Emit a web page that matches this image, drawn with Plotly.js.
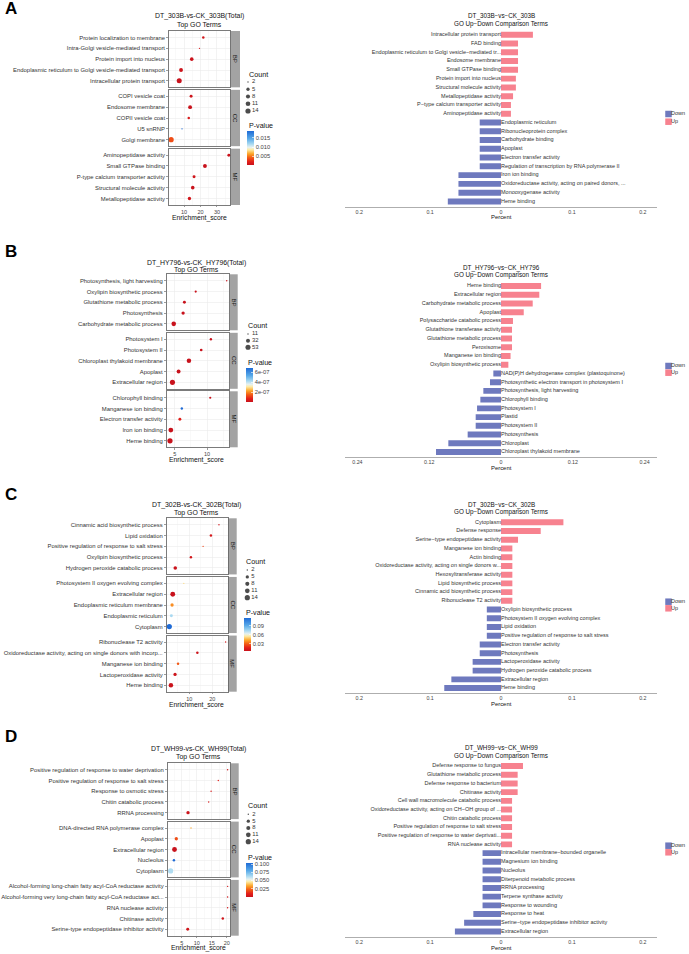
<!DOCTYPE html>
<html><head><meta charset="utf-8">
<script src="https://cdn.plot.ly/plotly-3.0.1.min.js"></script>
<style>html,body{margin:0;padding:0;background:#fff}#chart{width:689px;height:954px}</style>
</head><body><div id="chart"></div>
<script>
// ===================== DATA =====================
// ---- Panel A ----
const A_title = "DT_303B-vs-CK_303B(Total)";
const A_barTitle = "DT_303B−vs−CK_303B";
const A_BP_terms = ["Protein localization to membrane","Intra-Golgi vesicle-mediated transport","Protein import into nucleus","Endoplasmic reticulum to Golgi vesicle-mediated transport","Intracellular protein transport"];
const A_BP_score = [21.7,19.4,14.7,8.2,7.1];
const A_BP_count = [3,2,6,7,13];
const A_BP_pvalue = [0.0008,0.0012,0.0003,0.0004,0.0001];
const A_CC_terms = ["COPI vesicle coat","Endosome membrane","COPII vesicle coat","U5 snRNP","Golgi membrane"];
const A_CC_score = [14.3,13.7,12.9,8.8,2.2];
const A_CC_count = [4,7,3,2,14];
const A_CC_pvalue = [0.0005,0.0002,0.0012,0.0188,0.0036];
const A_MF_terms = ["Aminopeptidase activity","Small GTPase binding","P-type calcium transporter activity","Structural molecule activity","Metallopeptidase activity"];
const A_MF_score = [37.2,22.7,16.1,15.3,13.3];
const A_MF_count = [4,7,4,6,5];
const A_MF_pvalue = [0.0003,0.0001,0.0006,0.0002,0.0007];
const A_countBreaks = [2,5,8,11,14];
const A_pTickVals = [0.015,0.010,0.005];
const A_pTickText = ["0.015","0.010","0.005"];
const A_up_terms = ["Intracellular protein transport","FAD binding","Endoplasmic reticulum to Golgi vesicle−mediated tr...","Endosome membrane","Small GTPase binding","Protein import into nucleus","Structural molecule activity","Metallopeptidase activity","P−type calcium transporter activity","Aminopeptidase activity"];
const A_up_pct = [0.045,0.024,0.024,0.024,0.024,0.021,0.021,0.017,0.014,0.014];
const A_down_terms = ["Endoplasmic reticulum","Ribonucleoprotein complex","Carbohydrate binding","Apoplast","Electron transfer activity","Regulation of transcription by RNA polymerase II","Iron ion binding","Oxidoreductase activity, acting on paired donors, ...","Monooxygenase activity","Heme binding"];
const A_down_pct = [0.030,0.030,0.030,0.030,0.030,0.030,0.060,0.060,0.060,0.075];
const A_barTicks = [-0.2,-0.1,0,0.1,0.2];
const A_barTickText = ["0.2","0.1","0","0.1","0.2"];

// ---- Panel B ----
const B_title = "DT_HY796-vs-CK_HY796(Total)";
const B_barTitle = "DT_HY796−vs−CK_HY796";
const B_BP_terms = ["Photosynthesis, light harvesting","Oxylipin biosynthetic process","Glutathione metabolic process","Photosynthesis","Carbohydrate metabolic process"];
const B_BP_score = [13.05,8.25,6.5,6.3,4.85];
const B_BP_count = [11,13,18,22,42];
const B_BP_pvalue = [1e-9,2e-9,1e-10,1e-10,1e-12];
const B_CC_terms = ["Photosystem I","Photosystem II","Chloroplast thylakoid membrane","Apoplast","Extracellular region"];
const B_CC_score = [10.6,9.1,7.2,5.6,4.65];
const B_CC_count = [14,16,40,30,53];
const B_CC_pvalue = [1e-10,3e-9,1e-14,1e-11,1e-14];
const B_MF_terms = ["Chlorophyll binding","Manganese ion binding","Electron transfer activity","Iron ion binding","Heme binding"];
const B_MF_score = [10.5,6.1,5.8,4.4,4.27];
const B_MF_count = [13,14,18,47,55];
const B_MF_pvalue = [1e-9,6.8e-7,6e-8,1e-10,1e-11];
const B_countBreaks = [11,32,53];
const B_pTickVals = [6e-7,4e-7,2e-7];
const B_pTickText = ["6e-07","4e-07","2e-07"];
const B_up_terms = ["Heme binding","Extracellular region","Carbohydrate metabolic process","Apoplast","Polysaccharide catabolic process","Glutathione transferase activity","Glutathione metabolic process","Peroxisome","Manganese ion binding","Oxylipin biosynthetic process"];
const B_up_pct = [0.067,0.064,0.053,0.038,0.020,0.0184,0.0184,0.0184,0.016,0.0123];
const B_down_terms = ["NAD(P)H dehydrogenase complex (plastoquinone)","Photosynthetic electron transport in photosystem I","Photosynthesis, light harvesting","Chlorophyll binding","Photosystem I","Plastid","Photosystem II","Photosynthesis","Chloroplast","Chloroplast thylakoid membrane"];
const B_down_pct = [0.0128,0.0184,0.0295,0.0345,0.040,0.0423,0.0423,0.0557,0.088,0.1086];
const B_barTicks = [-0.24,-0.12,0,0.12,0.24];
const B_barTickText = ["0.24","0.12","0","0.12","0.24"];

// ---- Panel C ----
const C_title = "DT_302B-vs-CK_302B(Total)";
const C_barTitle = "DT_302B−vs−CK_302B";
const C_BP_terms = ["Cinnamic acid biosynthetic process","Lipid oxidation","Positive regulation of response to salt stress","Oxylipin biosynthetic process","Hydrogen peroxide catabolic process"];
const C_BP_score = [22.9,19.4,16.0,10.7,3.9];
const C_BP_count = [2,3,2,3,6];
const C_BP_pvalue = [0.008,0.010,0.024,0.009,0.006];
const C_CC_terms = ["Photosystem II oxygen evolving complex","Extracellular region","Endoplasmic reticulum membrane","Endoplasmic reticulum","Cytoplasm"];
const C_CC_score = [7.6,2.8,2.5,2.2,1.3];
const C_CC_count = [2,12,5,4,14];
const C_CC_pvalue = [0.052,0.005,0.037,0.072,0.114];
const C_MF_terms = ["Ribonuclease T2 activity","Oxidoreductase activity, acting on single donors with incorp...","Manganese ion binding","Lactoperoxidase activity","Heme binding"];
const C_MF_score = [25.8,13.5,5.1,3.8,2.0];
const C_MF_count = [2,3,3,5,10];
const C_MF_pvalue = [0.010,0.007,0.028,0.007,0.006];
const C_countBreaks = [2,5,8,11,14];
const C_pTickVals = [0.09,0.06,0.03];
const C_pTickText = ["0.09","0.06","0.03"];
const C_up_terms = ["Cytoplasm","Defense response","Serine−type endopeptidase activity","Manganese ion binding","Actin binding","Oxidoreductase activity, acting on single donors w...","Hexosyltransferase activity","Lipid biosynthetic process","Cinnamic acid biosynthetic process","Ribonuclease T2 activity"];
const C_up_pct = [0.088,0.056,0.024,0.016,0.016,0.016,0.016,0.016,0.016,0.016];
const C_down_terms = ["Oxylipin biosynthetic process","Photosystem II oxygen evolving complex","Lipid oxidation","Positive regulation of response to salt stress","Electron transfer activity","Photosynthesis","Lactoperoxidase activity","Hydrogen peroxide catabolic process","Extracellular region","Heme binding"];
const C_down_pct = [0.020,0.020,0.020,0.020,0.030,0.030,0.040,0.040,0.070,0.080];
const C_barTicks = [-0.2,-0.1,0,0.1,0.2];
const C_barTickText = ["0.2","0.1","0","0.1","0.2"];

// ---- Panel D ----
const D_title = "DT_WH99-vs-CK_WH99(Total)";
const D_barTitle = "DT_WH99−vs−CK_WH99";
const D_BP_terms = ["Positive regulation of response to water deprivation","Positive regulation of response to salt stress","Response to osmotic stress","Chitin catabolic process","RRNA processing"];
const D_BP_score = [20.3,17.2,14.8,14.0,7.1];
const D_BP_count = [2,2,2,2,5];
const D_BP_pvalue = [0.004,0.010,0.008,0.006,0.002];
const D_CC_terms = ["DNA-directed RNA polymerase complex","Apoplast","Extracellular region","Nucleolus","Cytoplasm"];
const D_CC_score = [8.1,3.2,2.6,2.4,1.3];
const D_CC_count = [2,5,12,3,14];
const D_CC_pvalue = [0.035,0.020,0.0003,0.104,0.063];
const D_MF_terms = ["Alcohol-forming long-chain fatty acyl-CoA reductase activity","Alcohol-forming very long-chain fatty acyl-CoA reductase act...","RNA nuclease activity","Chitinase activity","Serine-type endopeptidase inhibitor activity"];
const D_MF_score = [20.3,20.3,20.3,18.7,7.0];
const D_MF_count = [2,2,2,3,4];
const D_MF_pvalue = [0.004,0.004,0.004,0.003,0.003];
const D_countBreaks = [2,5,8,11,14];
const D_pTickVals = [0.100,0.075,0.050,0.025];
const D_pTickText = ["0.100","0.075","0.050","0.025"];
const D_up_terms = ["Defense response to fungus","Glutathione metabolic process","Defense response to bacterium","Chitinase activity","Cell wall macromolecule catabolic process","Oxidoreductase activity, acting on CH−OH group of ...","Chitin catabolic process","Positive regulation of response to salt stress","Positive regulation of response to water deprivati...","RNA nuclease activity"];
const D_up_pct = [0.031,0.0235,0.0235,0.0235,0.0156,0.0156,0.0156,0.0156,0.0156,0.0156];
const D_down_terms = ["Intracellular membrane−bounded organelle","Magnesium ion binding","Nucleolus","Diterpenoid metabolic process","RRNA processing","Terpene synthase activity","Response to wounding","Response to heat","Serine−type endopeptidase inhibitor activity","Extracellular region"];
const D_down_pct = [0.026,0.026,0.026,0.026,0.026,0.026,0.026,0.039,0.052,0.065];
const D_barTicks = [-0.2,-0.1,0,0.1,0.2];
const D_barTickText = ["0.2","0.1","0","0.1","0.2"];

const ontologies = ["BP","CC","MF"];
const groupNames = ["Down","Up"];

// ===================== STYLE / LAYOUT =====================
const W = 689, H = 954;
const FONT = "Liberation Sans, Arial, Helvetica, sans-serif";
const fx = v => v / W, fy = v => 1 - v / H;
const UP_COLOR = "#F7828F", DOWN_COLOR = "#6E79BE";
const STRIP = "#A3A3A3", BORDER = "#5a5a5a", GRID = "#EBEBEB", GRIDMINOR = "#F4F4F4";
const TXT = "#333333";
const pScale = [[0,"#C8121C"],[0.1,"#E3201A"],[0.22,"#F35E16"],[0.33,"#FCA62A"],[0.45,"#FDEBA6"],[0.52,"#E6F1F1"],[0.62,"#A6D8F1"],[0.78,"#56A8E8"],[1,"#1F6BD6"]];

const panels = [
  {L:"A", letterY:9, title:A_title, barTitle:A_barTitle,
   facets:[[A_BP_terms,A_BP_score,A_BP_count,A_BP_pvalue],[A_CC_terms,A_CC_score,A_CC_count,A_CC_pvalue],[A_MF_terms,A_MF_score,A_MF_count,A_MF_pvalue]],
   breaks:A_countBreaks, pv:A_pTickVals, pt:A_pTickText,
   up:[A_up_terms,A_up_pct], down:[A_down_terms,A_down_pct], bt:A_barTicks, btt:A_barTickText,
   dot:{x0:169,x1:230,sR:240,y0:31,y1:205,range:[0.9,37.9],dtick:10,titleX:199.5,t1:16,t2:25,xtY:217.5},
   cnt:{tx:246.7,ty:74,dx:249,lx:252,y0:82,y1:111}, pvl:{tx:246.7,ty:126,x:247,y0:131,y1:165},
   bar:{y0:29.5,y1:206.7,r:0.22,t1:16,t2:24,pY:216.7}, leg:{y0:114,y1:121.7}},
  {L:"B", letterY:252, title:B_title, barTitle:B_barTitle,
   facets:[[B_BP_terms,B_BP_score,B_BP_count,B_BP_pvalue],[B_CC_terms,B_CC_score,B_CC_count,B_CC_pvalue],[B_MF_terms,B_MF_score,B_MF_count,B_MF_pvalue]],
   breaks:B_countBreaks, pv:B_pTickVals, pt:B_pTickText,
   up:[B_up_terms,B_up_pct], down:[B_down_terms,B_down_pct], bt:B_barTicks, btt:B_barTickText,
   dot:{x0:166.7,x1:229.3,sR:237.7,y0:274.3,y1:447.3,range:[3.76,13.45],dtick:5,titleX:197,t1:262.7,t2:270.5,xtY:460.5},
   cnt:{tx:245.7,ty:325,dx:249,lx:252,y0:334,y1:347.3}, pvl:{tx:245.7,ty:362.7,x:245.7,y0:368.3,y1:402.3},
   bar:{y0:280.8,y1:457.3,r:0.2607,t1:268.3,t2:275.5,pY:468.3}, leg:{y0:366,y1:372.7}},
  {L:"C", letterY:494.5, title:C_title, barTitle:C_barTitle,
   facets:[[C_BP_terms,C_BP_score,C_BP_count,C_BP_pvalue],[C_CC_terms,C_CC_score,C_CC_count,C_CC_pvalue],[C_MF_terms,C_MF_score,C_MF_count,C_MF_pvalue]],
   breaks:C_countBreaks, pv:C_pTickVals, pt:C_pTickText,
   up:[C_up_terms,C_up_pct], down:[C_down_terms,C_down_pct], bt:C_barTicks, btt:C_barTickText,
   dot:{x0:166.7,x1:227.7,sR:236.7,y0:518.3,y1:691.7,range:[0.17,26.7],dtick:10,titleX:196,t1:505,t2:512.7,xtY:704.5},
   cnt:{tx:244.3,ty:561.7,dx:248.3,lx:251.3,y0:570,y1:597.7}, pvl:{tx:244.3,ty:613.3,x:244.3,y0:618.3,y1:651.7},
   bar:{y0:517.1,y1:693.3,r:0.22,t1:505,t2:511.7,pY:704}, leg:{y0:601.7,y1:608.3}},
  {L:"D", letterY:736.5, title:D_title, barTitle:D_barTitle,
   facets:[[D_BP_terms,D_BP_score,D_BP_count,D_BP_pvalue],[D_CC_terms,D_CC_score,D_CC_count,D_CC_pvalue],[D_MF_terms,D_MF_score,D_MF_count,D_MF_pvalue]],
   breaks:D_countBreaks, pv:D_pTickVals, pt:D_pTickText,
   up:[D_up_terms,D_up_pct], down:[D_down_terms,D_down_pct], bt:D_barTicks, btt:D_barTickText,
   dot:{x0:167.7,x1:230,sR:238.7,y0:763.3,y1:935.7,range:[0.33,21.1],dtick:5,titleX:198,t1:749,t2:756.7,xtY:948.3},
   cnt:{tx:246,ty:805.7,dx:249.3,lx:252.3,y0:814.3,y1:841.7}, pvl:{tx:246,ty:857.7,x:246,y0:862.7,y1:896.7},
   bar:{y0:760.8,y1:936.7,r:0.22,t1:748.3,t2:755.7,pY:947.7}, leg:{y0:845.7,y1:852.3}}
];

const layout = {width:W, height:H, margin:{l:0,r:0,t:0,b:0}, paper_bgcolor:"#ffffff", plot_bgcolor:"rgba(0,0,0,0)",
  showlegend:false, font:{family:FONT, color:TXT}, annotations:[], shapes:[], hovermode:false};
const traces = [];
let nAx = 0;
function addAxes(xa, ya){
  nAx++; const s = nAx===1 ? "" : String(nAx);
  layout["xaxis"+s] = Object.assign({anchor:"y"+s, fixedrange:true}, xa);
  layout["yaxis"+s] = Object.assign({anchor:"x"+s, fixedrange:true}, ya);
  return {xaxis:"x"+s, yaxis:"y"+s};
}
function ann(text, x, y, size, o){
  layout.annotations.push(Object.assign({text:text, xref:"paper", yref:"paper", x:fx(x), y:fy(y), showarrow:false,
    font:{size:size, family:FONT, color:"#111"}, xanchor:"center", yanchor:"middle"}, o||{}));
}
const hidden = {visible:false, showgrid:false, zeroline:false};

panels.forEach((P, pi) => {
  const caName = pi===0 ? "coloraxis" : "coloraxis"+(pi+1);
  const allCounts = [].concat(...P.facets.map(f=>f[2]));
  const allP = [].concat(...P.facets.map(f=>f[3]));
  const cLo = Math.min(...allCounts), cHi = Math.max(...allCounts);
  const sizeOf = c => 1.4 + 3.8*Math.sqrt(Math.max(0,(c-cLo))/(cHi-cLo));

  ann("<b>"+P.L+"</b>", 3, P.letterY, 17, {xanchor:"left", font:{size:17, family:FONT, color:"#000"}});
  ann(P.title, P.dot.titleX, P.dot.t1, 6.9);
  ann("Top GO Terms", P.dot.titleX, P.dot.t2, 6.9);
  ann("Enrichment_score", P.dot.titleX, P.dot.xtY, 6.8);

  const D = P.dot, gap = 2.5, fh = (D.y1 - D.y0 - 2*gap)/3;
  P.facets.forEach((f, k) => {
    const top = D.y0 + k*(fh+gap), bot = top + fh;
    const last = k===2;
    const ax = addAxes(
      {domain:[fx(D.x0), fx(D.x1)], range:D.range, dtick:D.dtick, tick0:0, showgrid:true, gridcolor:GRID, gridwidth:0.6,
       minor:{showgrid:true, dtick:D.dtick/2, tick0:0, gridcolor:GRIDMINOR, gridwidth:0.5},
       zeroline:false, showline:true, mirror:true, linecolor:BORDER, linewidth:0.8,
       ticks:last?"outside":"", ticklen:1.5, tickcolor:BORDER, tickwidth:0.6, showticklabels:last,
       tickfont:{size:5.5, color:"#444", family:FONT}},
      {domain:[fy(bot), fy(top)], type:"category", categoryarray:f[0], categoryorder:"array", range:[f[0].length-0.4, -0.6],
       showgrid:true, gridcolor:GRID, gridwidth:0.6, zeroline:false, showline:true, mirror:true, linecolor:BORDER, linewidth:0.8,
       ticks:"outside", ticklen:2, tickcolor:BORDER, tickwidth:0.6, tickfont:{size:5.9, color:TXT, family:FONT}}
    );
    traces.push(Object.assign({type:"scatter", mode:"markers", x:f[1], y:f[0], cliponaxis:false,
      marker:{size:f[2].map(sizeOf), color:f[3], coloraxis:caName, line:{width:0}, opacity:1}}, ax));
    layout.shapes.push({type:"rect", xref:"paper", yref:"paper", x0:fx(D.x1+0.6), x1:fx(D.sR), y0:fy(bot), y1:fy(top),
      fillcolor:STRIP, line:{width:0}, layer:"below"});
    ann(ontologies[k], (D.x1+0.6+D.sR)/2, (top+bot)/2, 6, {textangle:90, font:{size:6, family:FONT, color:"#1a1a1a"}});
  });

  layout[caName] = {colorscale:pScale, cmin:Math.min(...allP), cmax:Math.max(...allP), showscale:true,
    colorbar:{x:fx(P.pvl.x), xanchor:"left", y:fy(P.pvl.y0), yanchor:"top", len:P.pvl.y1-P.pvl.y0, lenmode:"pixels",
      thickness:7, thicknessmode:"pixels", outlinewidth:0, borderwidth:0, xpad:0, ypad:0,
      tickvals:P.pv, ticktext:P.pt, ticks:"inside", ticklen:2, tickcolor:"#ffffff", tickwidth:0.6,
      tickfont:{size:5.8, color:"#444", family:FONT}, title:{text:""}}};
  ann("P-value", P.pvl.tx, P.pvl.ty, 7.1, {xanchor:"left"});

  ann("Count", P.cnt.tx, P.cnt.ty, 7.2, {xanchor:"left"});
  const nb = P.breaks.length;
  const cax = addAxes({domain:[fx(P.cnt.dx-1), fx(P.cnt.lx)], range:[0,1], ...hidden},
                      {domain:[fy(P.cnt.y1), fy(P.cnt.y0)], range:[nb-1, 0], ...hidden});
  const idx = P.breaks.map((b,i)=>i);
  traces.push(Object.assign({type:"scatter", mode:"markers", x:P.breaks.map(()=>0.0), y:idx, cliponaxis:false,
    marker:{size:P.breaks.map(sizeOf), color:"#000", line:{width:0}}}, cax));
  traces.push(Object.assign({type:"scatter", mode:"text", x:P.breaks.map(()=>1), y:idx, cliponaxis:false,
    text:P.breaks.map(String), textposition:"middle right", textfont:{size:5.9, color:TXT, family:FONT}}, cax));

  const B = P.bar;
  const cats = P.up[0].concat(P.down[0]);
  const bax = addAxes(
    {domain:[fx(345), fx(657)], range:[-B.r, B.r], tickvals:P.bt, ticktext:P.btt, showgrid:false, zeroline:false,
     showline:true, linecolor:"#9a9a9a", linewidth:0.8, ticks:"", tickfont:{size:5.3, color:"#444", family:FONT}},
    {domain:[fy(B.y1), fy(B.y0)], type:"category", categoryarray:cats, categoryorder:"array", range:[cats.length-0.4, -0.6],
     visible:false, showgrid:false, zeroline:false}
  );
  traces.push(Object.assign({type:"bar", orientation:"h", x:P.down[1].map(v=>-v), y:P.down[0], width:0.68,
    marker:{color:DOWN_COLOR, line:{width:0}}, name:groupNames[0]}, bax));
  traces.push(Object.assign({type:"bar", orientation:"h", x:P.up[1], y:P.up[0], width:0.68,
    marker:{color:UP_COLOR, line:{width:0}}, name:groupNames[1]}, bax));
  traces.push(Object.assign({type:"scatter", mode:"text", x:P.up[0].map(()=>0), y:P.up[0], text:P.up[0], cliponaxis:false,
    textposition:"middle left", textfont:{size:5.5, color:TXT, family:FONT}}, bax));
  traces.push(Object.assign({type:"scatter", mode:"text", x:P.down[0].map(()=>0), y:P.down[0], text:P.down[0], cliponaxis:false,
    textposition:"middle right", textfont:{size:5.5, color:TXT, family:FONT}}, bax));
  ann(P.barTitle, 501, B.t1, 6.3);
  ann("GO Up−Down Comparison Terms", 501, B.t2, 6.3);
  ann("Percent", 501, B.pY, 5.9);

  const lax = addAxes({domain:[fx(668.5), fx(671)], range:[0,1], ...hidden},
                      {domain:[fy(P.leg.y1), fy(P.leg.y0)], range:[1,0], ...hidden});
  traces.push(Object.assign({type:"scatter", mode:"markers", x:[0,0], y:[0,1], cliponaxis:false,
    marker:{symbol:"square", size:6.5, color:[DOWN_COLOR, UP_COLOR], line:{width:0}}}, lax));
  traces.push(Object.assign({type:"scatter", mode:"text", x:[1,1], y:[0,1], text:groupNames, cliponaxis:false,
    textposition:"middle right", textfont:{size:5.5, color:TXT, family:FONT}}, lax));
});

Plotly.newPlot("chart", traces, layout, {staticPlot:true, displayModeBar:false});
</script></body></html>
